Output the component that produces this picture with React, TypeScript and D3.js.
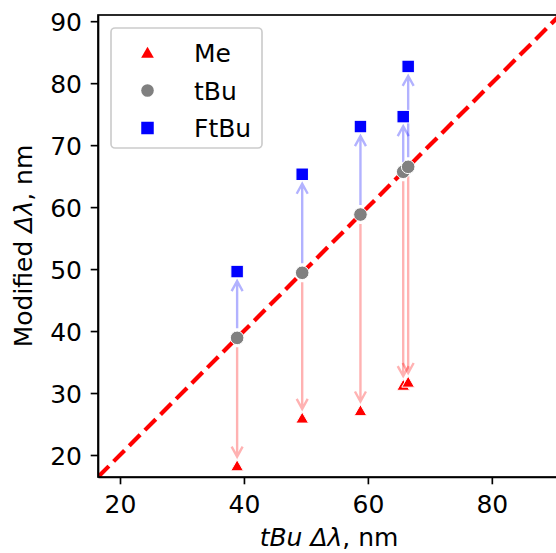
import { useEffect, useRef } from "react";
import * as d3 from "d3";

// tBu Δλ (x) and the modified Δλ values, nm
const tbu = [38.9, 49.4, 58.8, 65.7, 66.5];
const me = [18.2, 25.9, 27.1, 31.2, 31.7];
const ftbu = [49.6, 65.3, 73.0, 74.6, 82.7];

const xTicks = [20, 40, 60, 80];
const yTicks = [20, 30, 40, 50, 60, 70, 80, 90];
const legendLabels = ["Me", "tBu", "FtBu"];

const FONT = "DejaVu Sans";

function ShiftChart() {
  const ref = useRef<HTMLDivElement>(null);

  useEffect(() => {
    const width = 556;
    const height = 553;
    const plot = { left: 98, right: 560, top: 15, bottom: 477 };
    const lim = [16.45, 91];

    d3.select(ref.current).selectAll("*").remove();

    const svg = d3
      .select(ref.current)
      .append("svg")
      .attr("width", width)
      .attr("height", height)
      .style("display", "block")
      .style("font-family", FONT);

    const x = d3.scaleLinear().domain(lim).range([plot.left, plot.right]);
    const y = d3.scaleLinear().domain(lim).range([plot.bottom, plot.top]);

    svg
      .append("clipPath")
      .attr("id", "plot-clip")
      .append("rect")
      .attr("x", plot.left)
      .attr("y", plot.top)
      .attr("width", plot.right - plot.left)
      .attr("height", plot.bottom - plot.top);

    const inner = svg.append("g").attr("clip-path", "url(#plot-clip)");

    // y = x reference
    const line = d3
      .line<number>()
      .x((d) => x(d))
      .y((d) => y(d));
    inner
      .append("path")
      .datum(lim)
      .attr("fill", "none")
      .attr("stroke", "#ff0000")
      .attr("stroke-width", 4.2)
      .attr("stroke-dasharray", "15.4,6.7")
      .attr("d", line);

    // arrows from tBu to Me / FtBu
    const shrink = 9.5;
    const headLen = 10;
    const headW = 5.5;
    const arrow = (x0: number, y0: number, x1: number, y1: number) => {
      const dx = x1 - x0;
      const dy = y1 - y0;
      const len = Math.hypot(dx, dy);
      const ux = dx / len;
      const uy = dy / len;
      const sx = x0 + ux * shrink;
      const sy = y0 + uy * shrink;
      const tx = x1 - ux * shrink;
      const ty = y1 - uy * shrink;
      const bx = tx - ux * headLen;
      const by = ty - uy * headLen;
      const p = d3.path();
      p.moveTo(sx, sy);
      p.lineTo(tx, ty);
      p.moveTo(bx - uy * headW, by + ux * headW);
      p.lineTo(tx, ty);
      p.lineTo(bx + uy * headW, by - ux * headW);
      return p.toString();
    };

    tbu.forEach((t, i) => {
      inner
        .append("path")
        .attr("d", arrow(x(t), y(t), x(t), y(me[i])))
        .attr("fill", "none")
        .attr("stroke", "#ff0000")
        .attr("stroke-opacity", 0.3)
        .attr("stroke-width", 2.4);
      inner
        .append("path")
        .attr("d", arrow(x(t), y(t), x(t), y(ftbu[i])))
        .attr("fill", "none")
        .attr("stroke", "#0000ff")
        .attr("stroke-opacity", 0.3)
        .attr("stroke-width", 2.4);
    });

    const tri = d3.symbol().type(d3.symbolTriangle).size(70);
    const sq = 12.5;

    inner
      .selectAll(".me")
      .data(me)
      .join("path")
      .attr("d", tri)
      .attr("transform", (d, i) => `translate(${x(tbu[i])},${y(d) + 1})`)
      .attr("fill", "#ff0000")
      .attr("stroke", "white")
      .attr("stroke-width", 1);

    inner
      .selectAll(".tbu")
      .data(tbu)
      .join("circle")
      .attr("cx", (d) => x(d))
      .attr("cy", (d) => y(d))
      .attr("r", 6.8)
      .attr("fill", "#808080")
      .attr("stroke", "white")
      .attr("stroke-width", 1);

    inner
      .selectAll(".ftbu")
      .data(ftbu)
      .join("rect")
      .attr("x", (d, i) => x(tbu[i]) - sq / 2)
      .attr("y", (d) => y(d) - sq / 2)
      .attr("width", sq)
      .attr("height", sq)
      .attr("fill", "#0000ff")
      .attr("stroke", "white")
      .attr("stroke-width", 1);

    // axes
    const gx = svg
      .append("g")
      .attr("transform", `translate(0,${plot.bottom})`)
      .call(d3.axisBottom(x).tickValues(xTicks).tickSize(7.3).tickSizeOuter(0).tickFormat(d3.format("d")));
    gx.selectAll("text").attr("y", 36).attr("dy", 0).attr("font-size", 25).attr("font-family", FONT).attr("fill", "black");

    const gy = svg
      .append("g")
      .attr("transform", `translate(${plot.left},0)`)
      .call(d3.axisLeft(y).tickValues(yTicks).tickSize(7.3).tickSizeOuter(0).tickFormat(d3.format("d")));
    gy.selectAll("text").attr("x", -16).attr("dy", "0.36em").attr("font-size", 25).attr("font-family", FONT).attr("fill", "black");

    [gx, gy].forEach((g) => {
      g.selectAll("line").attr("stroke", "black").attr("stroke-width", 1.67);
      g.select(".domain").attr("stroke", "black").attr("stroke-width", 1.67);
    });

    svg
      .append("rect")
      .attr("x", plot.left)
      .attr("y", plot.top)
      .attr("width", plot.right - plot.left)
      .attr("height", plot.bottom - plot.top)
      .attr("fill", "none")
      .attr("stroke", "black")
      .attr("stroke-width", 1.67);

    // axis labels
    const xl = svg
      .append("text")
      .attr("x", (plot.left + plot.right) / 2)
      .attr("y", 546)
      .attr("text-anchor", "middle")
      .attr("font-size", 25);
    xl.append("tspan").attr("font-style", "italic").text("tBu ");
    xl.append("tspan").attr("font-style", "italic").text("Δλ");
    xl.append("tspan").text(", nm");

    const yl = svg
      .append("text")
      .attr("transform", `translate(32,${(plot.top + plot.bottom) / 2}) rotate(-90)`)
      .attr("text-anchor", "middle")
      .attr("font-size", 25);
    yl.append("tspan").text("Modified ");
    yl.append("tspan").attr("font-style", "italic").text("Δλ");
    yl.append("tspan").text(", nm");

    // legend
    const lg = svg.append("g");
    lg.append("rect")
      .attr("x", 111)
      .attr("y", 28)
      .attr("width", 151)
      .attr("height", 120)
      .attr("rx", 4)
      .attr("fill", "white")
      .attr("fill-opacity", 0.8)
      .attr("stroke", "#cccccc")
      .attr("stroke-width", 1.67);

    const rowY = d3.scalePoint<string>().domain(legendLabels).range([53, 128]);
    lg.append("path")
      .attr("d", tri)
      .attr("transform", `translate(147.5,${rowY("Me")! + 1})`)
      .attr("fill", "#ff0000");
    lg.append("circle")
      .attr("cx", 147.5)
      .attr("cy", rowY("tBu")!)
      .attr("r", 6.3)
      .attr("fill", "#808080");
    lg.append("rect")
      .attr("x", 147.5 - sq / 2)
      .attr("y", rowY("FtBu")! - sq / 2)
      .attr("width", sq)
      .attr("height", sq)
      .attr("fill", "#0000ff");
    lg.selectAll(".lab")
      .data(legendLabels)
      .join("text")
      .attr("x", 194)
      .attr("y", (d) => rowY(d)! + 9)
      .attr("font-size", 25)
      .text((d) => d);
  }, []);

  return <div ref={ref}></div>;
}

export default function App() {
  return (
    <div style={{ position: "absolute", left: 0, top: 0 }}>
      <ShiftChart />
    </div>
  );
}
